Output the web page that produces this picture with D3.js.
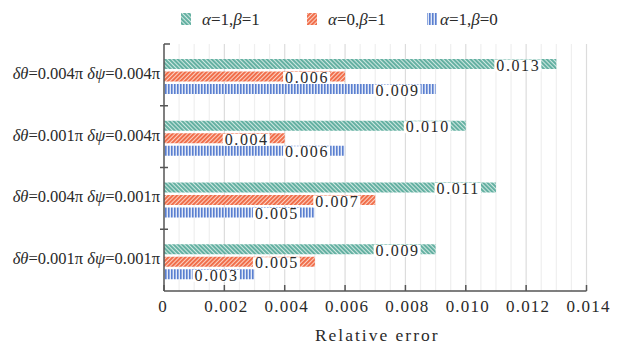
<!DOCTYPE html>
<html>
<head>
<meta charset="utf-8">
<script src="https://cdn.jsdelivr.net/npm/d3@7"></script>
<style>
  body { margin: 0; background: #fff; }
  text { font-family: "Liberation Serif", "Times New Roman", serif; fill: #2a2a2a; }
</style>
</head>
<body>
<div id="chart"></div>
<script>
// categories top to bottom: [dtheta, dpsi]
var groups = [["0.004", "0.004"], ["0.001", "0.004"], ["0.004", "0.001"], ["0.001", "0.001"]];
var seriesNames = [["1", "1"], ["0", "1"], ["1", "0"]];  // alpha, beta
var seriesA = [0.013, 0.010, 0.011, 0.009];  // a=1,b=1
var seriesB = [0.006, 0.004, 0.007, 0.005];  // a=0,b=1
var seriesC = [0.009, 0.006, 0.005, 0.003];  // a=1,b=0
var xTicks = [0, 0.002, 0.004, 0.006, 0.008, 0.010, 0.012, 0.014];
var xTickLabels = ["0", "0.002", "0.004", "0.006", "0.008", "0.010", "0.012", "0.014"];

var colors = ["#5fae9f", "#f06a45", "#5a7fd0"];
var patIds = ["patA", "patB", "patC"];
var values = [seriesA, seriesB, seriesC];

var W = 619, H = 345;
var svg = d3.select("#chart").append("svg")
  .attr("width", W).attr("height", H);

var defs = svg.append("defs");
// teal: "\\\" stripes
var pA = defs.append("pattern").attr("id", "patA").attr("patternUnits", "userSpaceOnUse")
  .attr("width", 3).attr("height", 3).attr("patternTransform", "rotate(-45)");
pA.append("rect").attr("width", 3).attr("height", 3).attr("fill", "#cfe8e2");
pA.append("rect").attr("width", 1.9).attr("height", 3).attr("fill", colors[0]);
// orange: "///" stripes
var pB = defs.append("pattern").attr("id", "patB").attr("patternUnits", "userSpaceOnUse")
  .attr("width", 3).attr("height", 3).attr("patternTransform", "rotate(45)");
pB.append("rect").attr("width", 3).attr("height", 3).attr("fill", "#fbd2c4");
pB.append("rect").attr("width", 1.9).attr("height", 3).attr("fill", colors[1]);
// blue: vertical stripes
var pC = defs.append("pattern").attr("id", "patC").attr("patternUnits", "userSpaceOnUse")
  .attr("width", 3).attr("height", 3);
pC.append("rect").attr("width", 3).attr("height", 3).attr("fill", "#e2e9f7");
pC.append("rect").attr("width", 1.6).attr("height", 3).attr("fill", colors[2]);

var x = d3.scaleLinear().domain([0, 0.014]).range([164, 586.5]);
var y = d3.scaleBand().domain(d3.range(groups.length)).range([44, 291]).padding(0);
var sub = d3.scaleBand().domain([0, 1, 2]).range([15, 50]).paddingInner(0.2).paddingOuter(0);

// grid lines
var minor = d3.range(0.0005, 0.01401, 0.0005);
svg.append("g").selectAll("line").data(minor).enter().append("line")
  .attr("x1", function(d) { return x(d); }).attr("x2", function(d) { return x(d); })
  .attr("y1", 44).attr("y2", 291)
  .attr("stroke", function(d, i) { return (i + 1) % 4 === 0 ? "#dcdcdc" : "#efefef"; })
  .attr("stroke-width", 1.2);

// bars
var g = svg.append("g").selectAll("g").data(groups).enter().append("g")
  .attr("transform", function(d, i) { return "translate(0," + y(i) + ")"; });

values.forEach(function(vals, s) {
  g.append("rect")
    .attr("x", x(0))
    .attr("y", sub(s))
    .attr("width", function(d, i) { return x(vals[i]) - x(0); })
    .attr("height", sub.bandwidth())
    .attr("fill", "url(#" + patIds[s] + ")");
});

// value labels
values.forEach(function(vals, s) {
  var lab = g.append("g");
  lab.append("text")
    .attr("x", function(d, i) { return x(vals[i]) - 16; })
    .attr("y", sub(s) + sub.bandwidth() + 1.5)
    .attr("text-anchor", "end")
    .attr("font-size", 16)
    .attr("letter-spacing", 1.6)
    .text(function(d, i) { return vals[i].toFixed(3); })
    .each(function() {
      var b = this.getBBox();
      var p = this.parentNode;
      d3.select(p).insert("rect", function() { return p.firstChild; })
        .attr("x", b.x - 2).attr("y", b.y + 3).attr("width", b.width + 3).attr("height", b.height - 5)
        .attr("fill", "#fff");
    });
});

// axes
var axis = svg.append("g").attr("stroke", "#555").attr("stroke-width", 1.5);
axis.append("line").attr("x1", 164).attr("x2", 164).attr("y1", 44).attr("y2", 291);
axis.append("line").attr("x1", 164).attr("x2", 586.5).attr("y1", 291).attr("y2", 291);
axis.append("line").attr("x1", 164).attr("x2", 170).attr("y1", 44).attr("y2", 44);
axis.selectAll(".yt").data(d3.range(1, groups.length)).enter().append("line")
  .attr("x1", 160).attr("x2", 168)
  .attr("y1", function(d) { return y(d); }).attr("y2", function(d) { return y(d); });
axis.selectAll(".xt").data(xTicks).enter().append("line")
  .attr("x1", function(d) { return x(d); }).attr("x2", function(d) { return x(d); })
  .attr("y1", 291).attr("y2", 285);

svg.append("g").selectAll("text").data(xTicks).enter().append("text")
  .attr("x", function(d, i) { return x(d) + (i === 0 ? -1 : 2); })
  .attr("y", 312)
  .attr("text-anchor", "middle")
  .attr("font-size", 17)
  .attr("letter-spacing", 1.2)
  .text(function(d, i) { return xTickLabels[i]; });

svg.append("text").attr("x", x(0.007) + 2).attr("y", 341)
  .attr("text-anchor", "middle").attr("font-size", 17.5).attr("letter-spacing", 2)
  .text("Relative error");

// category labels
var yl = svg.append("g").selectAll("text").data(groups).enter().append("text")
  .attr("x", 160)
  .attr("y", function(d, i) { return y(i) + y.bandwidth() / 2 + 4; })
  .attr("text-anchor", "end")
  .attr("font-size", 16.5);
yl.append("tspan").attr("font-style", "italic").text("δθ");
yl.append("tspan").text(function(d) { return "=" + d[0] + "π "; });
yl.append("tspan").attr("font-style", "italic").text("δψ");
yl.append("tspan").text(function(d) { return "=" + d[1] + "π"; });

// legend
var legX = [181, 307, 427];
var legTX = [202, 328, 440];
var leg = svg.append("g").selectAll("g").data(seriesNames).enter().append("g");
leg.append("rect")
  .attr("x", function(d, i) { return legX[i]; }).attr("y", 13)
  .attr("width", 10).attr("height", 12)
  .attr("fill", function(d, i) { return "url(#" + patIds[i] + ")"; });
var lt = leg.append("text")
  .attr("x", function(d, i) { return legTX[i]; }).attr("y", 25)
  .attr("font-size", 17);
lt.append("tspan").attr("font-style", "italic").text("α");
lt.append("tspan").text(function(d) { return "=" + d[0] + ","; });
lt.append("tspan").attr("font-style", "italic").text("β");
lt.append("tspan").text(function(d) { return "=" + d[1]; });
</script>
</body>
</html>
